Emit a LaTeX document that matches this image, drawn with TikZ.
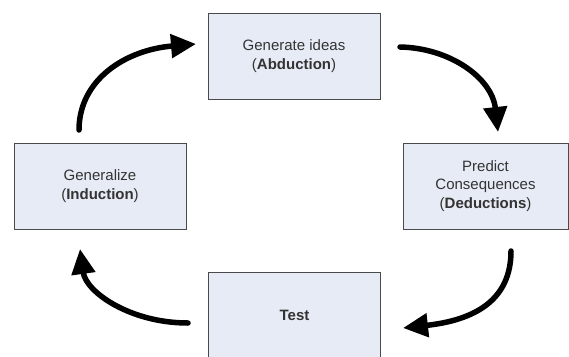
\documentclass[tikz,border=0pt]{standalone}
\usepackage{fontspec}
\setmainfont{Liberation Sans}
\usetikzlibrary{arrows.meta}
\definecolor{boxfill}{HTML}{E6EBF5}
\definecolor{boxline}{HTML}{4A4A4A}
\definecolor{txt}{HTML}{333333}
\begin{document}
\begin{tikzpicture}[x=1pt,y=-1pt,
  stepbox/.style={draw=boxline, line width=1pt, fill=boxfill, rectangle,
    minimum width=172pt, minimum height=86pt, inner sep=0pt, align=center,
    text=txt, font=\fontsize{15}{18.5}\selectfont},
  cyc/.style={line width=5.5pt, -{Triangle[length=25pt,width=23pt]}, line cap=round}]
\useasboundingbox (0,0) rectangle (569,356);
\fill[white] (0,0) rectangle (569,356);
\node[stepbox] (gen) at (294,56) {Generate ideas\\(\textbf{Abduction})};
\node[stepbox, minimum width=165pt] (pred) at (485.5,186) {Predict\\Consequences\\(\textbf{Deductions})};
\node[stepbox] (test) at (294.5,315) {\textbf{Test}};
\node[stepbox] (genz) at (100,186) {Generalize\\(\textbf{Induction})};
\coordinate (a1s) at (79,130);
\coordinate (a1e) at (196,44);
\coordinate (a2s) at (400,47);
\coordinate (a2e) at (498,132);
\coordinate (a3s) at (511,251);
\coordinate (a3e) at (403,328);
\coordinate (a4s) at (188,323);
\coordinate (a4e) at (80,249);
\draw[cyc] (a1s) .. controls (79,80) and (125,50) .. (a1e);
\draw[cyc] (a2s) .. controls (450,48) and (492,78) .. (a2e);
\draw[cyc] (a3s) .. controls (511,300) and (475,320) .. (a3e);
\draw[cyc] (a4s) .. controls (130,323) and (86,292) .. (a4e);
\end{tikzpicture}
\end{document}
